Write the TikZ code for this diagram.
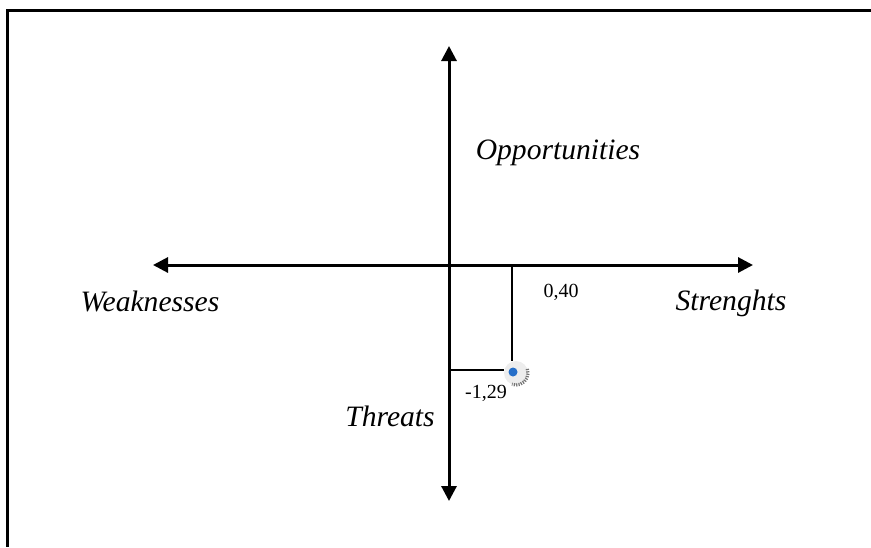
\documentclass[tikz,border=0pt]{standalone}
\usepackage{fontspec}
\setmainfont{Liberation Serif}
\usetikzlibrary{arrows.meta}

\tikzset{
  axis/.style={line width=1.5pt, {Triangle[length=7.5pt,width=7.5pt]}-{Triangle[length=7.5pt,width=7.5pt]}},
  guide/.style={line width=1.2pt},
  quad/.style={font=\fontsize{14.8}{17}\selectfont\itshape, inner sep=0pt},
  value/.style={font=\fontsize{10}{12}\selectfont, inner sep=0pt}
}

\begin{document}
\begin{tikzpicture}[x=0.5pt, y=-0.5pt]
  \useasboundingbox (0,0) rectangle (871,547);
  % frame
  \draw[line width=1.5pt] (871,10) -- (7,10) -- (7,547);

  % axes
  \coordinate (west) at (153,265);
  \coordinate (east) at (753,265);
  \coordinate (north) at (449,46);
  \coordinate (south) at (449,501);
  \coordinate (origin) at (449,265);
  \draw[axis] (west) -- (east);
  \draw[axis] (north) -- (south);

  \node[quad] (opp) at (558,153) {Opportunities};
  \node[quad] (weak) at (150,301) {Weaknesses};
  \node[quad] (str) at (731,303) {Strenghts};
  \node[quad] (thr) at (390,416) {Threats};

  % position of the result
  \coordinate (sx) at (512,265);
  \coordinate (ty) at (449,370);
  \node[circle, fill=black!7, minimum size=12pt, inner sep=0pt] (pt) at (516,373) {};
  \fill[blue!55!cyan!75!black!85] (pt.center) ++(-3,-1) circle (4.5);
  \draw[black!55, line width=1.6pt, dash pattern=on 0.6pt off 0.6pt] (pt.center) ++(11.3,-4.1) arc (-20:110:12);
  \draw[guide] (sx) -- (pt.north -| sx);
  \draw[guide] (ty) -- (pt.west |- ty);

  \node[value] (sval) at (561,292) {0,40};
  \node[value] (tval) at (486,393) {-1,29};
\end{tikzpicture}
\end{document}
